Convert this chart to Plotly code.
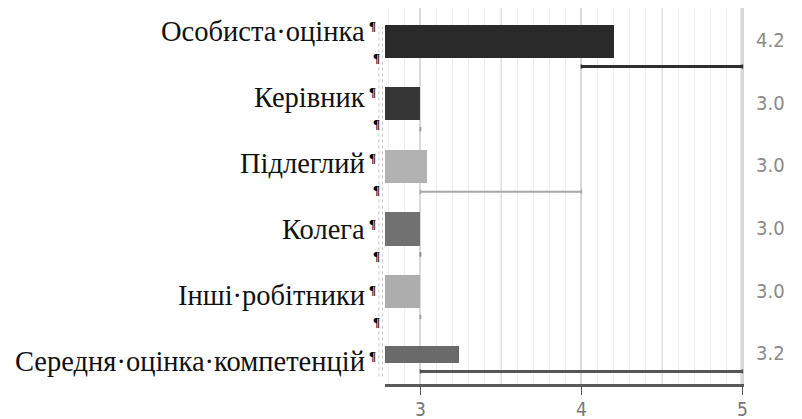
import plotly.graph_objects as go

# Survey scores: bar = mean score, line below = min..max range
categories = ["Особиста·оцінка", "Керівник", "Підлеглий", "Колега",
              "Інші·робітники", "Середня·оцінка·компетенцій"]
scores = [4.2, 3.0, 3.04, 3.0, 3.0, 3.24]
range_low = [4.0, 3.0, 3.0, 3.0, 3.0, 3.0]
range_high = [5.0, 3.0, 4.0, 3.0, 3.0, 5.0]
tick_values = [3, 4, 5]

bar_colors = ["#2a2a2a", "#363636", "#b2b2b2", "#717171", "#adadad", "#6a6a6a"]
bar_widths = [0.53, 0.53, 0.53, 0.53, 0.53, 0.27]
range_colors = ["#2e2e2e", "#9a9a9a", "#a6a6a6", "#8a8a8a", "#a0a0a0", "#555555"]
range_widths = [3, 2, 2, 2, 2, 3]

rows = list(range(len(categories)))

fig = go.Figure()

fig.add_trace(go.Bar(
    x=scores, y=rows, orientation="h",
    width=bar_widths,
    marker=dict(color=bar_colors, line=dict(width=0)),
    hoverinfo="skip",
))

# range lines just below each bar
for i in rows:
    off = bar_widths[i] / 2 + 0.14
    fig.add_trace(go.Scatter(
        x=[range_low[i], range_high[i]], y=[i + off, i + off],
        mode="lines+markers",
        line=dict(color=range_colors[i], width=range_widths[i]),
        marker=dict(size=3, color=range_colors[i], symbol="line-ns",
                    line=dict(width=1.5, color=range_colors[i])),
        hoverinfo="skip",
    ))

label_x = -0.050          # right edge of the row labels (paper units)
serif = "Liberation Serif, Times New Roman, serif"
narrow = "Liberation Sans Narrow, DejaVu Sans Condensed, sans-serif"
annotations = []
for i, (name, v) in enumerate(zip(categories, scores)):
    shift = 9.7 - 3.4 * i  # label rows sit on a slightly wider pitch than the bars
    annotations.append(dict(
        x=label_x, xref="paper", y=i, yref="y", xanchor="right", yanchor="middle",
        text=name, showarrow=False, yshift=shift,
        font=dict(family=serif, size=28.5, color="#111"),
    ))
    # paragraph marks after each label and in the empty line below it
    annotations.append(dict(
        x=label_x, xref="paper", y=i, yref="y", xanchor="left", yanchor="middle",
        text="<b>¶</b>", showarrow=False, yshift=shift + 6,
        font=dict(family=serif, size=13, color="#000"),
    ))
    if i < len(categories) - 1:
        annotations.append(dict(
            x=-0.008, xref="paper", y=i, yref="y", xanchor="right", yanchor="middle",
            text="<b>¶</b>", showarrow=False, yshift=shift - 26,
            font=dict(family=serif, size=13, color="#000"),
        ))
    annotations.append(dict(
        x=1.075, xref="paper", y=i, yref="y", xanchor="center", yanchor="middle",
        text=f"{v:.1f}", showarrow=False, yshift=1,
        font=dict(family=narrow, size=20, color="#8a8a8a"),
    ))

# x tick labels placed just under the tick marks
for t in tick_values:
    annotations.append(dict(
        x=t, xref="x", y=0, yref="paper", xanchor="center", yanchor="top",
        text=str(t), showarrow=False, yshift=-13, borderpad=0,
        font=dict(family=narrow, size=19, color="#777"),
    ))

shapes = []
# darker half-step grid lines
for v in [3.5, 4.5]:
    shapes.append(dict(type="line", xref="x", yref="paper", x0=v, x1=v, y0=0, y1=1,
                       line=dict(color="#dedede", width=2), layer="below"))
shapes.append(dict(type="line", xref="x", yref="paper", x0=5, x1=5, y0=0, y1=1,
                   line=dict(color="#d6d6d6", width=4), layer="below"))
# table cell border beside the labels
for px in [-0.017, -0.007]:
    shapes.append(dict(type="line", xref="paper", yref="paper", x0=px, x1=px, y0=0.02, y1=0.95,
                       line=dict(color="#c8c8c8", width=1, dash="dot")))

fig.update_layout(
    width=802, height=419,
    margin=dict(l=385, r=58, t=8, b=35, autoexpand=False),
    paper_bgcolor="white", plot_bgcolor="white",
    showlegend=False,
    bargap=0,
    annotations=annotations,
    shapes=shapes,
    xaxis=dict(
        range=[2.78, 5.01],
        automargin=False,
        tickvals=tick_values, showticklabels=False,
        ticks="outside", ticklen=8, tickcolor="#555", tickwidth=1,
        showline=True, linecolor="#5a5a5a", linewidth=3,
        showgrid=True, gridcolor="#d9d9d9", gridwidth=2,
        minor=dict(dtick=0.1, tick0=2.8, showgrid=True, gridcolor="#eeeeee", gridwidth=1),
        zeroline=False, fixedrange=True,
    ),
    yaxis=dict(
        range=[5.476, -0.53],
        automargin=False,
        showticklabels=False, showgrid=False, zeroline=False, showline=False,
        fixedrange=True,
    ),
)

fig.write_html("out.html")
